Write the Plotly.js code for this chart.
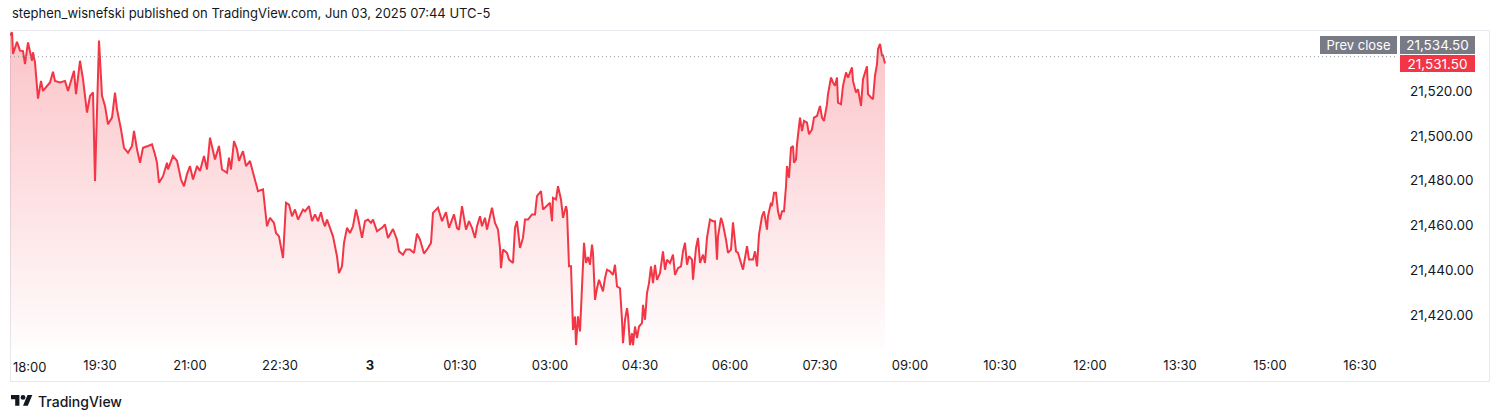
<!DOCTYPE html>
<html>
<head>
<meta charset="utf-8">
<script src="https://cdn.plot.ly/plotly-3.0.1.min.js"></script>
<style>
  html, body { margin: 0; padding: 0; background: #ffffff; }
  #chart { width: 1500px; height: 420px; }
</style>
</head>
<body>
<div id="chart"></div>
<script>
// ---- Data ----
const sessionStart = '2025-06-02T18:00:00Z';   // first bar of the session (exchange time)
// minutes after 18:00
const minutes = [
  0, 2, 3, 7, 10, 13, 15, 18, 22, 23, 25, 28, 31, 33, 40, 43, 45, 50, 55, 58,
  62, 64, 66, 70, 73, 75, 77, 80, 83, 85, 87, 89, 92, 95, 98, 102, 105, 107, 111, 114,
  118, 122, 124, 127, 130, 133, 138, 142, 145, 147, 149, 153, 157, 158, 163, 167, 171, 174, 177, 180,
  183, 187, 190, 192, 194, 197, 200, 205, 209, 212, 217, 219, 221, 224, 227, 229, 233, 236, 240, 244,
  248, 253, 257, 260, 264, 266, 269, 273, 276, 279, 282, 285, 288, 293, 295, 299, 302, 305, 308, 311,
  313, 315, 317, 320, 323, 327, 329, 332, 334, 337, 340, 343, 346, 348, 352, 355, 358, 361, 363, 367,
  372, 375, 378, 383, 387, 389, 393, 396, 400, 404, 407, 410, 414, 418, 421, 423, 428, 432, 436, 439,
  444, 447, 449, 452, 454, 456, 459, 462, 465, 467, 470, 472, 475, 477, 480, 482, 485, 488, 490, 491,
  493, 497, 499, 503, 505, 507, 510, 513, 515, 518, 522, 525, 527, 531, 533, 537, 540, 542, 543, 546,
  548, 551, 553, 556, 557, 559, 561, 563, 565, 566, 568, 570, 572, 574, 576, 578, 580, 582, 583, 585,
  587, 589, 593, 595, 597, 600, 603, 605, 607, 610, 612, 613, 615, 617, 618, 620, 622, 623, 625, 627,
  629, 632, 633, 635, 637, 639, 641, 643, 645, 647, 650, 653, 655, 657, 660, 663, 665, 668, 671, 673,
  675, 677, 679, 682, 683, 686, 688, 690, 693, 695, 697, 700, 703, 705, 707, 708, 711, 713, 716, 718,
  721, 723, 726, 728, 730, 733, 737, 739, 743, 745, 747, 749, 752, 754, 757, 758, 761, 762, 764, 766,
  768, 770, 772, 774, 776, 777, 779, 781, 783, 784, 786, 787, 790, 792, 794, 797, 799, 802, 804, 807,
  810, 812, 814, 817, 818, 821, 823, 825, 827, 828, 831, 833, 836, 838, 842, 843, 846, 848, 851, 853,
  857, 858, 861, 863, 865, 867, 868, 870, 872, 873, 875
];
const prices = [
  21544.0, 21545.4, 21535.7, 21541.2, 21537.2, 21537.0, 21531.2, 21540.9, 21532.7, 21536.5, 21532.0, 21515.8, 21523.7, 21519.2, 21523.0, 21527.8, 21523.7, 21523.0, 21523.7, 21519.2,
  21525.2, 21528.2, 21517.8, 21532.7, 21524.5, 21517.0, 21509.5, 21517.0, 21518.5, 21478.9, 21511.0, 21541.7, 21517.0, 21512.5, 21504.3, 21507.3, 21518.5, 21511.0, 21502.0, 21493.8,
  21491.6, 21494.6, 21501.3, 21493.1, 21487.1, 21493.8, 21494.6, 21495.3, 21490.8, 21487.1, 21478.2, 21481.1, 21487.1, 21484.1, 21490.1, 21488.0, 21479.6, 21476.6, 21482.0, 21485.6,
  21479.6, 21485.6, 21483.4, 21487.1, 21490.1, 21484.1, 21498.3, 21488.6, 21494.6, 21484.1, 21482.6, 21489.4, 21484.1, 21496.8, 21493.1, 21488.0, 21492.3, 21485.6, 21487.9, 21481.1,
  21474.4, 21475.2, 21458.7, 21462.5, 21460.2, 21455.7, 21454.2, 21444.5, 21469.2, 21468.4, 21463.2, 21466.2, 21461.7, 21466.2, 21465.4, 21467.7, 21461.0, 21464.0, 21461.0, 21465.0,
  21461.0, 21458.7, 21461.7, 21458.0, 21454.2, 21445.3, 21437.8, 21440.8, 21451.3, 21458.0, 21455.7, 21458.7, 21466.2, 21462.5, 21453.5, 21461.0, 21461.7, 21460.2, 21461.7, 21456.5,
  21458.0, 21459.5, 21453.5, 21457.5, 21452.7, 21447.5, 21446.0, 21448.3, 21448.3, 21446.8, 21455.4, 21452.7, 21446.5, 21449.0, 21451.3, 21464.7, 21467.0, 21461.0, 21465.0, 21458.0,
  21464.0, 21458.0, 21457.2, 21467.7, 21461.7, 21457.2, 21461.0, 21458.0, 21453.5, 21458.7, 21463.2, 21458.7, 21462.5, 21457.2, 21463.2, 21467.0, 21460.2, 21457.2, 21449.0, 21440.0,
  21448.3, 21446.8, 21443.8, 21442.3, 21458.0, 21461.0, 21449.0, 21453.5, 21461.7, 21461.7, 21464.0, 21464.0, 21472.2, 21474.4, 21466.2, 21467.7, 21469.2, 21461.0, 21471.4, 21470.7,
  21476.6, 21470.7, 21462.5, 21467.7, 21465.5, 21440.8, 21440.8, 21412.4, 21418.4, 21405.6, 21418.4, 21411.7, 21433.3, 21451.3, 21442.3, 21445.0, 21441.5, 21450.5, 21446.8, 21425.8,
  21431.0, 21434.8, 21429.6, 21435.6, 21439.3, 21438.6, 21437.0, 21441.5, 21431.8, 21431.0, 21416.9, 21406.4, 21416.9, 21422.1, 21419.0, 21405.6, 21410.9, 21405.6, 21413.9, 21408.7,
  21413.9, 21415.4, 21423.6, 21416.9, 21428.8, 21433.3, 21440.8, 21433.3, 21441.5, 21434.8, 21437.8, 21447.5, 21439.3, 21443.8, 21442.3, 21446.0, 21437.0, 21440.0, 21440.8, 21447.5,
  21451.3, 21441.5, 21445.3, 21443.8, 21434.8, 21449.0, 21453.5, 21442.3, 21446.0, 21442.3, 21453.5, 21461.7, 21461.0, 21461.0, 21443.8, 21454.2, 21462.5, 21459.5, 21452.7, 21446.8,
  21448.3, 21460.5, 21447.5, 21446.8, 21443.8, 21439.3, 21449.8, 21443.8, 21443.8, 21447.5, 21440.8, 21455.0, 21463.2, 21465.4, 21457.2, 21463.2, 21469.2, 21467.7, 21473.7, 21473.7,
  21465.4, 21461.7, 21465.4, 21465.4, 21476.6, 21485.6, 21480.4, 21493.8, 21494.6, 21487.1, 21488.6, 21495.3, 21507.3, 21501.3, 21505.8, 21505.0, 21499.8, 21502.0, 21507.3, 21508.0,
  21512.5, 21507.3, 21505.8, 21513.3, 21517.8, 21525.2, 21523.0, 21521.5, 21525.2, 21514.0, 21513.3, 21521.5, 21527.5, 21525.2, 21529.7, 21523.7, 21518.5, 21520.0, 21512.5, 21524.5,
  21530.2, 21517.8, 21516.3, 21515.5, 21526.0, 21531.2, 21537.9, 21540.2, 21535.0, 21535.0, 21531.5
];
const prevClose = 21534.50;
const lastPrice = 21531.50;
const priceTicks = [21420, 21440, 21460, 21480, 21500, 21520];
const timeTickMinutes = [90, 180, 270, 360, 450, 540, 630, 720, 810, 900, 990, 1080, 1170, 1260, 1350];
const timeTickLabels = ['19:30', '21:00', '22:30', '<b>3</b>', '01:30', '03:00', '04:30', '06:00', '07:30', '09:00', '10:30', '12:00', '13:30', '15:00', '16:30'];
const firstTickLabel = '18:00';
const headerText = 'stephen_wisnefski published on TradingView.com, Jun 03, 2025 07:44 UTC-5';
const footerText = 'TradingView';

// ---- helpers ----
function toDate(m) {
  const d = new Date(Date.parse(sessionStart) + m * 60000);
  return d.toISOString().slice(0, 19).replace('T', ' ');
}
const W = 1500, H = 420;
const M = { l: 10, r: 104, t: 31, b: 70 };
const PW = W - M.l - M.r, PH = H - M.t - M.b;
const px = x => (x - M.l) / PW;          // pixel -> paper x
const py = y => (H - M.b - y) / PH;      // pixel -> paper y

const yRange = [21403.4, 21546.0];
const xRange = [toDate(0), toDate(1386)];

const xs = minutes.map(toDate);
const fmt = v => v.toLocaleString('en-US', { minimumFractionDigits: 2, maximumFractionDigits: 2 });

const RED = '#f23645';
const GRAY = '#787b86';
const TXT = '#131722';
const FONT = 'Inter, "Open Sans", sans-serif';

const trace = {
  x: xs, y: prices, type: 'scatter', mode: 'lines',
  line: { color: RED, width: 2 },
  fill: 'tozeroy',
  fillgradient: {
    type: 'vertical',
    start: yRange[0], stop: yRange[1],
    colorscale: [[0, 'rgba(242,54,69,0.01)'], [1, 'rgba(242,54,69,0.30)']]
  },
  hoverinfo: 'skip', cliponaxis: true
};

// TradingView logo (from its 36x28 glyph), scaled to pixels then to paper
const LS = 0.6, LX = 11, LY = 395;
const lp = (vx, vy) => [px(LX + vx * LS), py(LY + (vy - 4) * LS)];
function pathFrom(pts) {
  return 'M ' + pts.map(p => { const q = lp(p[0], p[1]); return q[0].toFixed(5) + ',' + q[1].toFixed(5); }).join(' L ') + ' Z';
}
const logoT = pathFrom([[0, 4], [14, 4], [14, 22], [7, 22], [7, 11], [0, 11]]);
const logoV = pathFrom([[20, 22], [27.5, 4], [35.5, 4], [28, 22]]);
const c0 = lp(16, 4), c1 = lp(24, 12);

const shapes = [
  // outer frame
  { type: 'rect', xref: 'paper', yref: 'paper', x0: px(10.5), x1: px(1489.5), y0: py(381.5), y1: py(30.5),
    line: { color: '#e6e8ee', width: 1 }, fillcolor: 'rgba(0,0,0,0)', layer: 'below' },
  // previous close dotted line
  { type: 'line', xref: 'paper', yref: 'y', x0: 0, x1: 1, y0: prevClose, y1: prevClose,
    line: { color: '#9598a1', width: 1, dash: '1px,3px' } },
  // logo
  { type: 'path', xref: 'paper', yref: 'paper', path: logoT, fillcolor: TXT, line: { width: 0 } },
  { type: 'path', xref: 'paper', yref: 'paper', path: logoV, fillcolor: TXT, line: { width: 0 } },
  { type: 'circle', xref: 'paper', yref: 'paper', x0: c0[0], x1: c1[0], y0: c1[1], y1: c0[1], fillcolor: TXT, line: { width: 0 } }
];

const annotations = [
  { text: headerText, xref: 'paper', yref: 'paper', x: px(10), y: py(13), xanchor: 'left', yanchor: 'middle',
    showarrow: false, font: { family: FONT, size: 13, color: TXT } },
  { text: footerText, xref: 'paper', yref: 'paper', x: px(36), y: py(401.5), xanchor: 'left', yanchor: 'middle',
    showarrow: false, font: { family: FONT, size: 14, color: TXT, weight: 500 } },
  { text: firstTickLabel, xref: 'x', yref: 'paper', x: toDate(0), y: py(367), xanchor: 'left', yanchor: 'middle',
    xshift: 1, showarrow: false, font: { family: FONT, size: 13, color: TXT } },
  // Prev close label + value
  { text: 'Prev close', xref: 'paper', yref: 'y', x: 1, y: prevClose, xanchor: 'right', yanchor: 'middle',
    xshift: 1, yshift: 12, showarrow: false, bgcolor: GRAY, borderwidth: 0, borderpad: 0, width: 77, height: 18,
    font: { family: FONT, size: 13, color: '#ffffff' } },
  { text: fmt(prevClose), xref: 'paper', yref: 'y', x: 1, y: prevClose, xanchor: 'left', yanchor: 'middle',
    xshift: 4, yshift: 12, showarrow: false, bgcolor: GRAY, borderwidth: 0, borderpad: 0, width: 75, height: 18,
    font: { family: FONT, size: 13.5, color: '#ffffff' } },
  { text: fmt(lastPrice), xref: 'paper', yref: 'y', x: 1, y: lastPrice, xanchor: 'left', yanchor: 'middle',
    xshift: 4, yshift: 0, showarrow: false, bgcolor: RED, borderwidth: 0, borderpad: 0, width: 75, height: 17,
    font: { family: FONT, size: 13.5, color: '#ffffff' } }
];

const layout = {
  width: W, height: H, autosize: false,
  margin: M,
  paper_bgcolor: '#ffffff', plot_bgcolor: '#ffffff',
  showlegend: false, hovermode: false,
  font: { family: FONT, size: 13, color: TXT },
  xaxis: {
    type: 'date', range: xRange, fixedrange: true,
    tickmode: 'array', tickvals: timeTickMinutes.map(toDate), ticktext: timeTickLabels,
    showgrid: false, zeroline: false, showline: false, ticks: '',
    tickfont: { family: FONT, size: 13, color: TXT }, ticklabelstandoff: 6
  },
  yaxis: {
    side: 'right', range: yRange, fixedrange: true,
    tickmode: 'array', tickvals: priceTicks, ticktext: priceTicks.map(fmt),
    showgrid: false, zeroline: false, showline: false, ticks: '',
    tickfont: { family: FONT, size: 13.5, color: TXT }, ticklabelstandoff: 13, ticklabelshift: 2
  },
  shapes: shapes,
  annotations: annotations
};

Plotly.newPlot('chart', [trace], layout, { displayModeBar: false, staticPlot: true });
</script>
</body>
</html>
